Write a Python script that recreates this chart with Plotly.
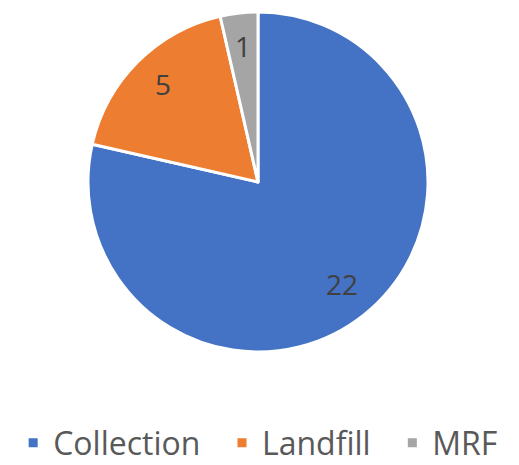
import math
import plotly.graph_objects as go

categories = ["Collection", "Landfill", "MRF"]
values = [22, 5, 1]
colors = ["#4472C4", "#ED7D31", "#A5A5A5"]

W, H = 519, 465
X0, X1, Y0, Y1 = 80, 420, 4, 344  # pie box in figure pixels (from top-left)
dom = dict(x=[X0 / W, X1 / W], y=[(H - Y1) / H, (H - Y0) / H])

# legend entries: trailing no-break spaces widen the gap between entries
legend_labels = [c + "\u00a0" * 2 if i < len(categories) - 1 else c
                 for i, c in enumerate(categories)]

fig = go.Figure()
fig.add_trace(go.Pie(
    labels=legend_labels,
    values=values,
    sort=False,
    direction="clockwise",
    rotation=0,
    marker=dict(colors=colors, line=dict(color="white", width=3)),
    textinfo="none",
    domain=dom,
    customdata=categories,
    hovertemplate="%{customdata}: %{value}<extra></extra>",
))

# value labels at the slice mid-angles, ~0.8 of the radius
cx, cy, R = (X0 + X1) / 2, (Y0 + Y1) / 2, (X1 - X0) / 2
total = sum(values)
cum = 0
for v in values:
    mid = (cum + v / 2) / total * 2 * math.pi
    cum += v
    px = cx + 0.79 * R * math.sin(mid)
    py = cy - 0.79 * R * math.cos(mid)
    fig.add_annotation(x=px / W, y=1 - py / H, xref="paper", yref="paper",
                       text=str(v), showarrow=False, xanchor="center", yanchor="middle",
                       yshift=3,
                       font=dict(family="Open Sans", size=28, color="#404040"))

fig.update_layout(
    width=W, height=H,
    margin=dict(l=0, r=0, t=0, b=0),
    paper_bgcolor="white",
    showlegend=True,
    legend=dict(orientation="h", x=0.482, xanchor="center", y=30 / H, yanchor="middle",
                font=dict(family="Open Sans", size=32, color="#595959"),
                itemwidth=30, tracegroupgap=0),
)
fig.write_html("out.html")
